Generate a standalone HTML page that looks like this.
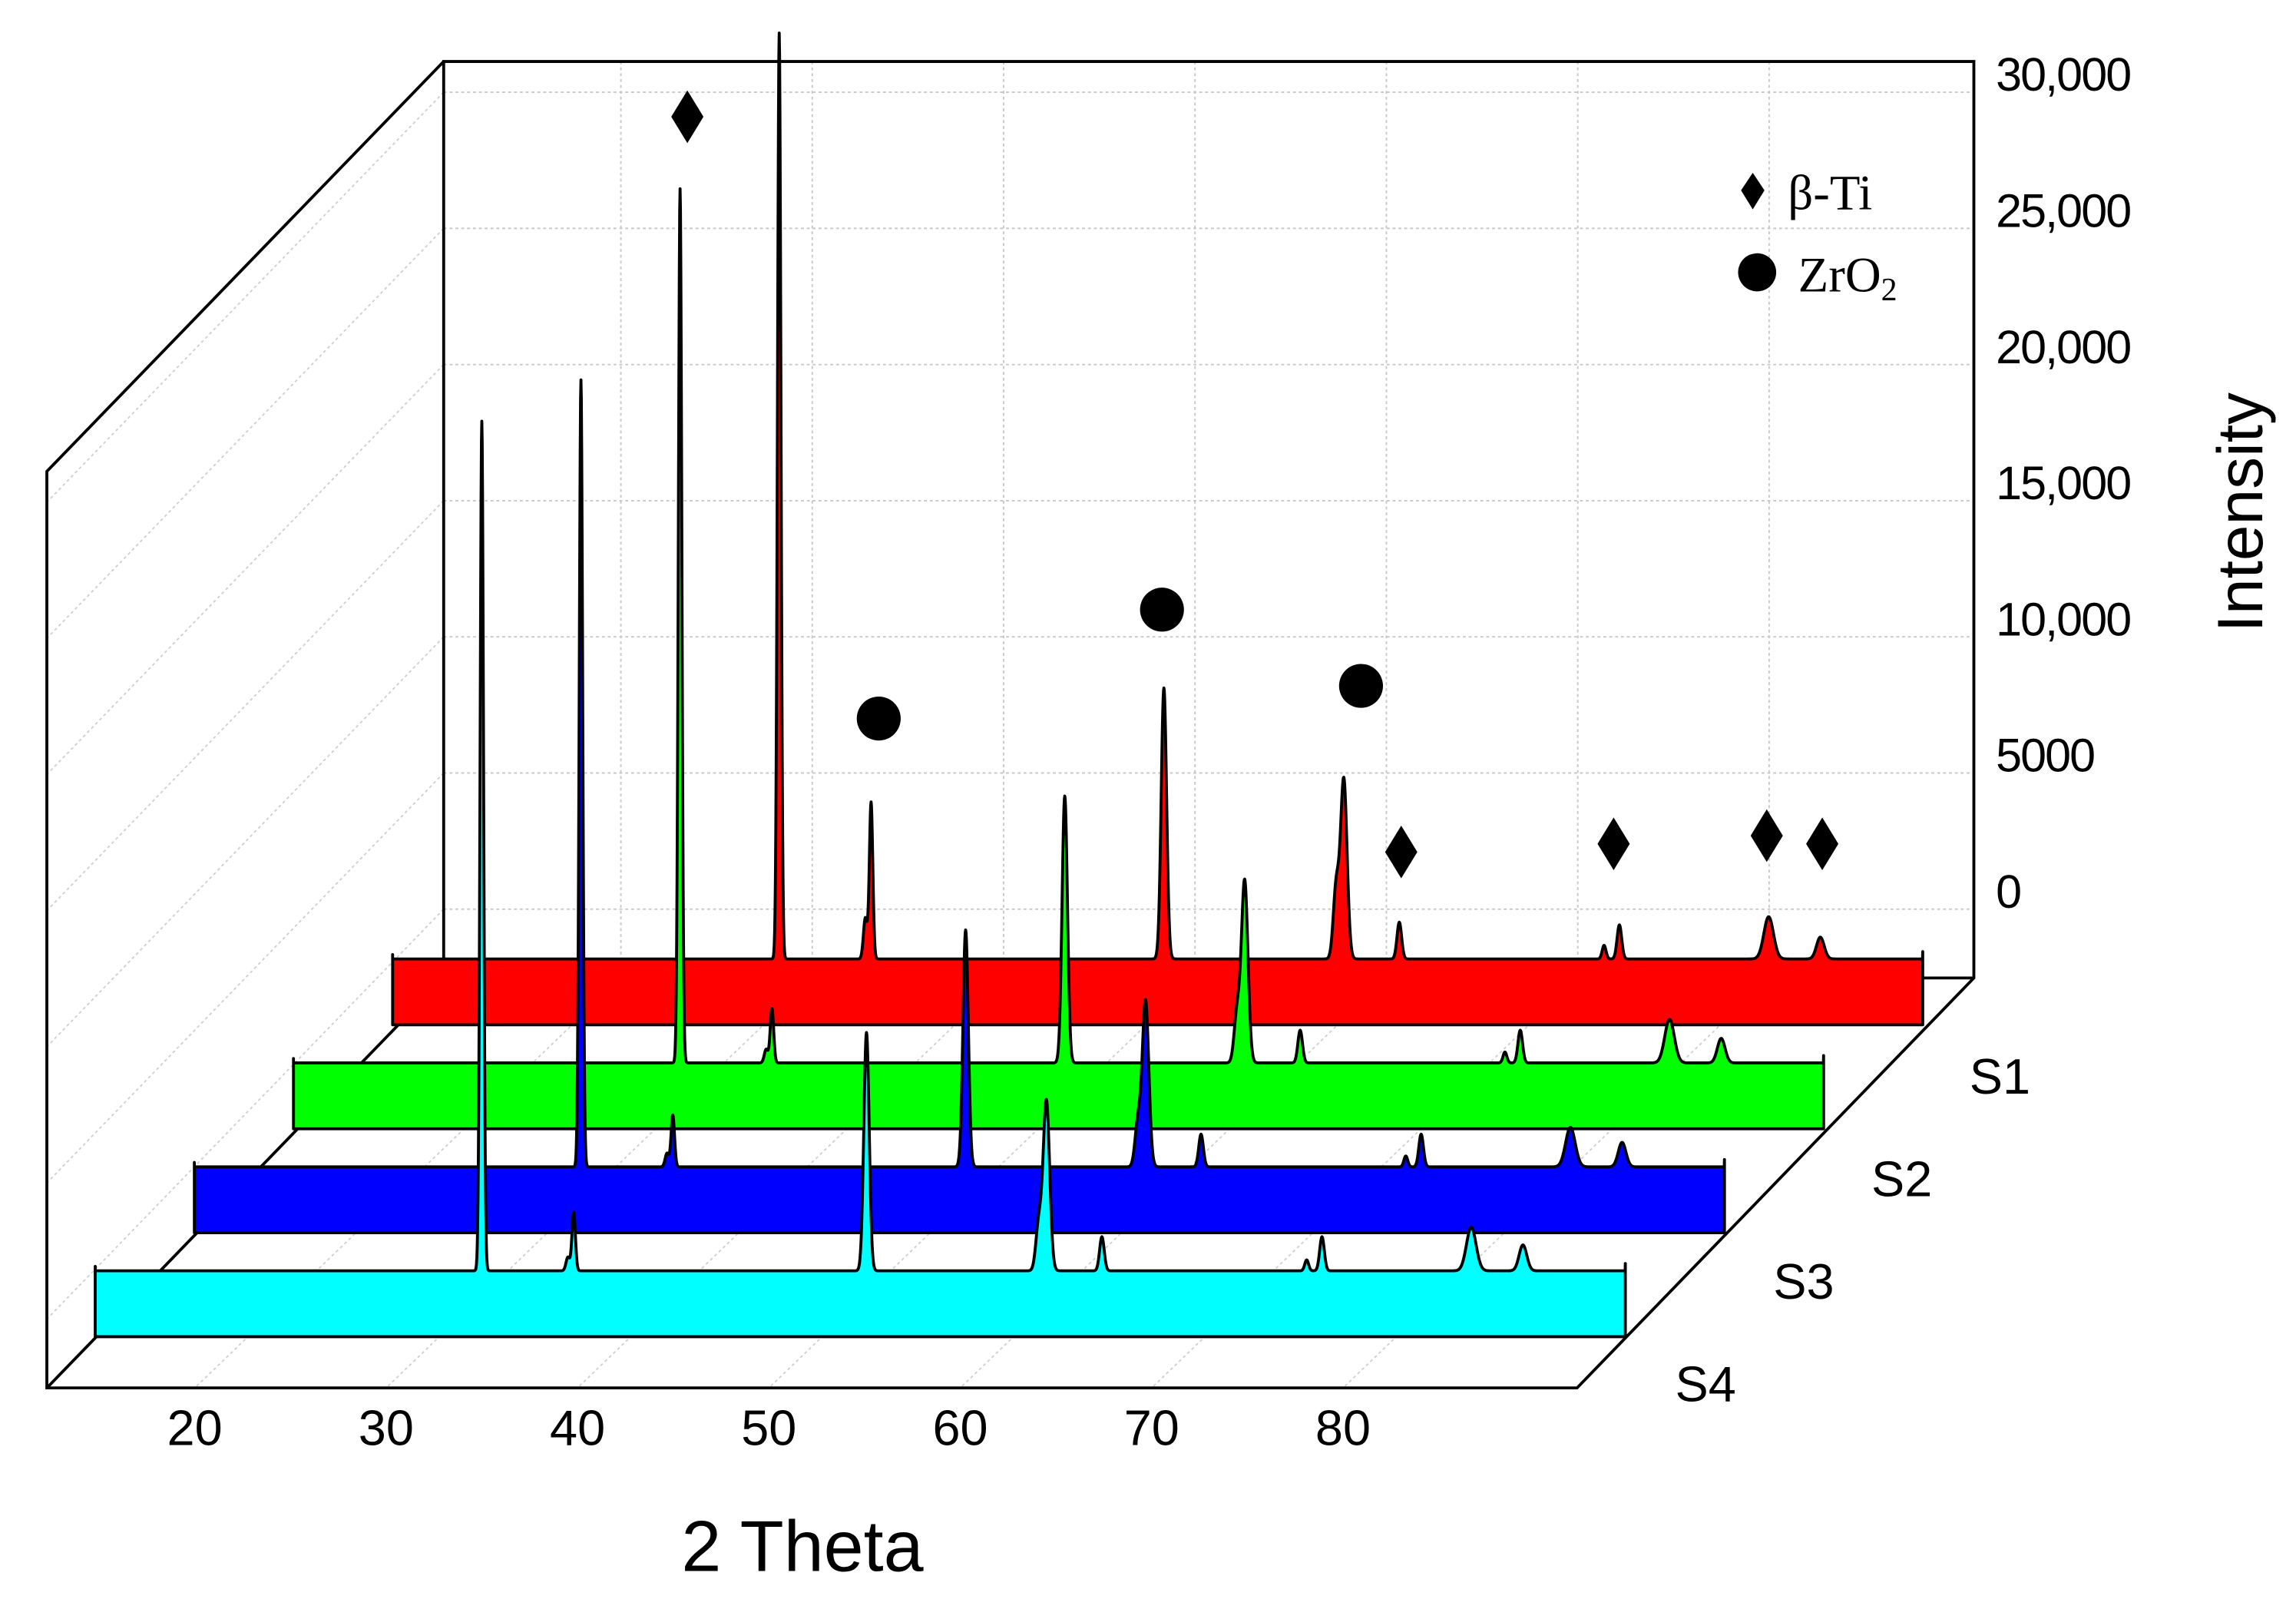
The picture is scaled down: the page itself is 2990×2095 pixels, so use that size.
<!DOCTYPE html>
<html><head><meta charset="utf-8"><style>
html,body{margin:0;padding:0;background:#fff;}
svg{display:block;}
text{font-family:"Liberation Sans",Arial,sans-serif;fill:#000;}
</style></head><body>
<svg id="chart" width="2990" height="2095" viewBox="0 0 1568 1099" preserveAspectRatio="none" xmlns="http://www.w3.org/2000/svg">
<g id="frame"></g>
<g id="ribbons"></g>
<g id="markers"></g>
<g id="labels"></g>
</svg>
<script>
const samples = ["S1","S2","S3","S4"];
const colors = ["#ff0000","#00ff00","#0000ff","#00ffff"];
const peakPos = [35.0, 39.8, 55.1, 64.5, 67.4, 78.9, 86.7, 89.4, 39.5, 64.1, 78.1];
const peakWidth = [0.09, 0.09, 0.14, 0.17, 0.12, 0.12, 0.25, 0.2, 0.1, 0.15, 0.1];
const heightS1 = [34000, 5750, 9950, 6600, 1350, 1250, 1550, 800, 1500, 2600, 500];
const heightS2 = [32100, 2000, 9800, 6700, 1200, 1200, 1600, 900, 500, 1800, 400];
const heightS3 = [28900, 1900, 8700, 6100, 1200, 1200, 1450, 900, 500, 1600, 400];
const heightS4 = [31200, 2150, 8750, 6250, 1250, 1250, 1600, 950, 500, 1700, 400];
const heights = [heightS1, heightS2, heightS3, heightS4];
const xTicks = [20, 30, 40, 50, 60, 70, 80];
const yTicks = [0, 5000, 10000, 15000, 20000, 25000, 30000];
const yTickLabels = ["0","5000","10,000","15,000","20,000","25,000","30,000"];
const betaTiTheta = [30.2, 67.5, 78.6, 86.6, 89.5];
const betaTiLevel = [29100, 2100, 2400, 2700, 2400];
const zrTheta = [40.2, 55.0, 65.4];
const zrLevel = [7000, 11000, 8200];

const NS = "http://www.w3.org/2000/svg";
function mk(tag, attrs, parent){const e=document.createElementNS(NS,tag);for(const k in attrs)e.setAttribute(k,attrs[k]);parent.appendChild(e);return e;}
const K = 13.07, DX = 67.7, DY = 71;
function xFront(t, i){return 133 + (t-20)*K + (3-i)*DX;}
function baseY(i){return 868 - (3-i)*DY;}
const PXC = 93/5000;
function yBack(v){return 621 - v*PXC;}
function xBack(t){return 424 + (t-20)*K;}

const frame = document.getElementById('frame');
yTicks.forEach((v,k)=>{
  const l=mk('line',{x1:303,x2:1348,y1:yBack(v),y2:yBack(v),stroke:'#c8c8c8','stroke-width':1,'stroke-dasharray':'2,2'},frame);
  
  
  const d=mk('line',{x1:303,y1:yBack(v),x2:32,y2:yBack(v)+280,stroke:'#d0d0d0','stroke-width':1,'stroke-dasharray':'2,2'},frame);
  
  
});
xTicks.forEach(t=>{
  const l=mk('line',{x1:xBack(t),x2:xBack(t),y1:42,y2:668,stroke:'#c8c8c8','stroke-width':1,'stroke-dasharray':'2,2'},frame);
  
  
  const f=mk('line',{x1:xBack(t),y1:668,x2:xFront(t,3),y2:948,stroke:'#d0d0d0','stroke-width':1,'stroke-dasharray':'2,2'},frame);
  
  
});
const box=mk('path',{d:'M303,668 L303,42 L1348,42 L1348,668 L1077,948 L32,948 L32,322 L303,42 M303,668 L1348,668 M303,668 L32,948',fill:'none',stroke:'#000','stroke-width':2},frame);



const rib=document.getElementById('ribbons');
for(let i=0;i<4;i++){
  const by=baseY(i), h=heights[i];
  let pts=[];
  for(let t=14.8;t<=94.75;t+=0.02){
    let v=0;
    for(let p=0;p<peakPos.length;p++){const z=(t-peakPos[p])/peakWidth[p];v+=h[p]*Math.exp(-0.5*z*z);}
    pts.push([xFront(t,i), by - v*PXC]);
  }
  const x0=xFront(14.8,i), x1=xFront(94.75,i);
  let d='M'+x0+','+(by+45)+' L'+x0+','+(by-3);
  pts.forEach(p=>{d+=' L'+p[0].toFixed(2)+','+p[1].toFixed(2);});
  d+=' L'+x1+','+(by-5)+' L'+x1+','+(by+45)+' Z';
  const r=mk('path',{d:d,fill:colors[i],stroke:'#000','stroke-width':2,'stroke-linejoin':'round'},rib);
  
  
}

const mg=document.getElementById('markers');
betaTiTheta.forEach((t,k)=>{
  const x=xFront(t,0), y=yBack(betaTiLevel[k]);
  const e=mk('path',{d:`M${x},${y-18} L${x+11},${y} L${x},${y+18} L${x-11},${y} Z`,fill:'#000'},mg);
  
  
});
zrTheta.forEach((t,k)=>{
  const c=mk('circle',{cx:xFront(t,0),cy:yBack(zrLevel[k]),r:15,fill:'#000'},mg);
  
  
});

const lg=document.getElementById('labels');
yTicks.forEach((v,k)=>{
  const t=mk('text',{x:1363,y:yBack(v)-1,'font-size':32,'letter-spacing':'-1'},lg);
  t.textContent=yTickLabels[k];
  
  
});
xTicks.forEach(v=>{
  const t=mk('text',{x:xFront(v,3),y:987,'font-size':34,'text-anchor':'middle'},lg);
  t.textContent=String(v);
  
  
});
samples.forEach((s,i)=>{
  const t=mk('text',{x:1345-i*67,y:747+i*70,'font-size':34},lg);
  t.textContent=s;
  
  
});
</script>
<svg style="position:absolute;left:0;top:0" width="2990" height="2095" viewBox="0 0 1568 1099" preserveAspectRatio="none">
<text x="548" y="1073" font-size="49" text-anchor="middle" style="font-family:'Liberation Sans',sans-serif">2 Theta</text>
<text transform="translate(1545,350) rotate(-90)" font-size="44" text-anchor="middle" style="font-family:'Liberation Sans',sans-serif">Intensity</text>
<g>
<path d="M1197,118 L1205,130 L1197,143 L1189,130 Z" fill="#000"/>
<text x="1221" y="143" font-size="34" style="font-family:'Liberation Serif',serif">β-Ti</text>
<circle cx="1200" cy="186" r="13" fill="#000"/>
<text x="1228" y="199" font-size="34" style="font-family:'Liberation Serif',serif">ZrO<tspan font-size="22" dy="6">2</tspan></text>
</g>
</svg>
</body></html>
